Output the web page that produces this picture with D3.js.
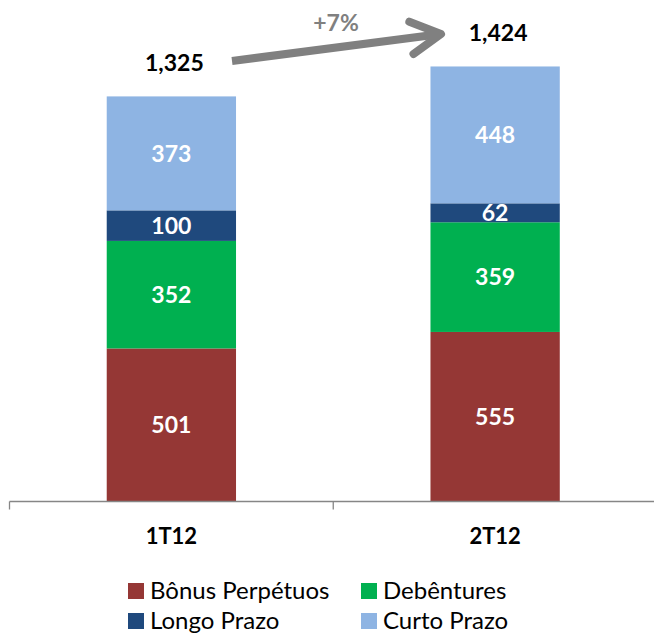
<!DOCTYPE html>
<html>
<head>
<meta charset="utf-8">
<script src="https://cdn.jsdelivr.net/npm/d3@7"></script>
<style>
  body { margin: 0; background: #fff; }
  svg { display: block; font-family: Lato, 'Open Sans', sans-serif; }
</style>
</head>
<body>
<div id="chart"></div>
<script>
const periods = ['1T12', '2T12'];
const seriesNames = ['Bônus Perpétuos', 'Debêntures', 'Longo Prazo', 'Curto Prazo'];
const bonus = [501, 555];
const debentures = [352, 359];
const longo = [100, 62];
const curto = [373, 448];
const totalLabels = ['1,325', '1,424'];
const growthLabel = '+7%';

const colors = {
  'Bônus Perpétuos': '#953735',
  'Debêntures': '#00b050',
  'Longo Prazo': '#1f497d',
  'Curto Prazo': '#8eb4e3'
};

const rows = periods.map((p, i) => ({
  period: p,
  'Bônus Perpétuos': bonus[i],
  'Debêntures': debentures[i],
  'Longo Prazo': longo[i],
  'Curto Prazo': curto[i],
  total: bonus[i] + debentures[i] + longo[i] + curto[i]
}));

const width = 654, height = 633;
const baseY = 501.5;

const svg = d3.select('#chart').append('svg')
  .attr('width', width).attr('height', height);

const x = d3.scaleBand().domain(periods).range([9.5, 657]);
const barW = 129.3;
// 1325 -> ~405 px tall
const y = d3.scaleLinear().domain([0, 1500]).range([baseY, baseY - 1500 * 0.3055]);

const stack = d3.stack().keys(seriesNames)(rows);

// bars
const layers = svg.append('g').selectAll('g')
  .data(stack).join('g')
  .attr('fill', d => colors[d.key]);

layers.selectAll('rect')
  .data(d => d)
  .join('rect')
  .attr('x', d => x(d.data.period) + (x.bandwidth() - barW) / 2)
  .attr('y', d => y(d[1]))
  .attr('width', barW)
  .attr('height', d => y(d[0]) - y(d[1]));

// segment labels
layers.selectAll('text')
  .data(d => d)
  .join('text')
  .attr('x', d => x(d.data.period) + x.bandwidth() / 2)
  .attr('y', d => (y(d[0]) + y(d[1])) / 2)
  .attr('dy', '0.36em')
  .attr('text-anchor', 'middle')
  .attr('fill', '#fff')
  .attr('font-weight', 'bold')
  .attr('font-size', '23px')
  .text(d => d[1] - d[0]);

// axis
const axisG = svg.append('g').attr('transform', `translate(0,${baseY})`);
axisG.append('line')
  .attr('x1', 9.5).attr('x2', 654)
  .attr('stroke', '#868686').attr('stroke-width', 1.3);
const tickXs = periods.map(p => x(p));
axisG.selectAll('.tk').data(tickXs).join('line')
  .attr('class', 'tk')
  .attr('x1', d => d).attr('x2', d => d)
  .attr('y1', 0).attr('y2', 8)
  .attr('stroke', '#868686').attr('stroke-width', 1.3);
axisG.selectAll('.cat').data(periods).join('text')
  .attr('class', 'cat')
  .attr('x', d => x(d) + x.bandwidth() / 2)
  .attr('y', 42.5)
  .attr('text-anchor', 'middle')
  .attr('font-weight', 'bold')
  .attr('font-size', '22px')
  .attr('fill', '#000')
  .text(d => d);

// total labels
svg.selectAll('.total').data(rows).join('text')
  .attr('class', 'total')
  .attr('x', d => x(d.period) + x.bandwidth() / 2 + 3)
  .attr('y', d => y(d.total) - 25)
  .attr('text-anchor', 'middle')
  .attr('font-weight', 'bold')
  .attr('font-size', '23px')
  .attr('fill', '#000')
  .text((d, i) => totalLabels[i]);

// growth arrow
const ax1 = 232, ay1 = 61, ax2 = 441, ay2 = 34;
svg.append('line')
  .attr('x1', ax1).attr('y1', ay1).attr('x2', ax2 - 4).attr('y2', ay2 + 0.5)
  .attr('stroke', '#808080').attr('stroke-width', 8);
const ang = Math.atan2(ay2 - ay1, ax2 - ax1);
const hl = 34, ha = 0.5;
svg.append('path')
  .attr('d', `M${ax2 - hl * Math.cos(ang - ha)},${ay2 - hl * Math.sin(ang - ha)} L${ax2},${ay2} L${ax2 - hl * Math.cos(ang + ha)},${ay2 - hl * Math.sin(ang + ha)}`)
  .attr('fill', 'none')
  .attr('stroke', '#808080').attr('stroke-width', 8)
  .attr('stroke-linecap', 'round').attr('stroke-linejoin', 'round');
svg.append('text')
  .attr('x', 336).attr('y', 31)
  .attr('text-anchor', 'middle')
  .attr('font-weight', 'bold')
  .attr('font-size', '23px')
  .attr('fill', '#808080')
  .text(growthLabel);

// legend
const legendPos = [
  { x: 128, y: 583 }, { x: 361, y: 583 },
  { x: 128, y: 613 }, { x: 361, y: 613 }
];
const leg = svg.append('g').selectAll('g')
  .data(seriesNames).join('g')
  .attr('transform', (d, i) => `translate(${legendPos[i].x},${legendPos[i].y})`);
leg.append('rect')
  .attr('width', 16).attr('height', 16)
  .attr('fill', d => colors[d]);
leg.append('text')
  .attr('x', 22).attr('y', 16)
  .attr('font-size', '24px')
  .attr('fill', '#000')
  .text(d => d);
</script>
</body>
</html>
